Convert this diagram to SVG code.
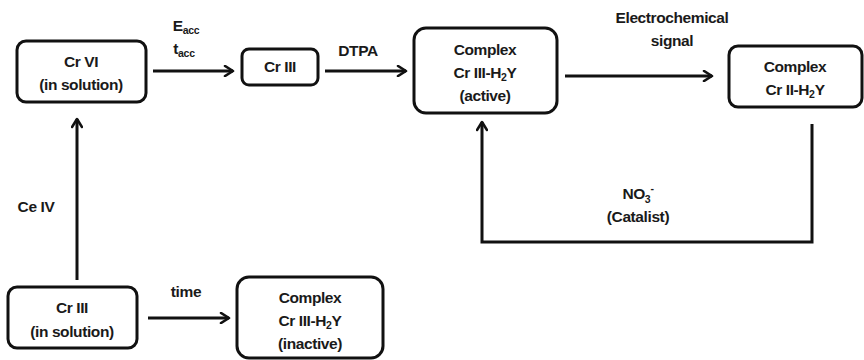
<svg xmlns="http://www.w3.org/2000/svg" width="864" height="360" viewBox="0 0 864 360">
<defs>
<marker id="arr" viewBox="0 0 12 12" refX="10" refY="6" markerWidth="12" markerHeight="12" markerUnits="userSpaceOnUse" orient="auto">
<path d="M2,1 L10,6 L2,11" fill="none" stroke="#111" stroke-width="2.6" stroke-linecap="round" stroke-linejoin="round"/>
</marker>
<style>
.box{fill:#fff;stroke:#111;stroke-width:3;}
.t{font-family:"Liberation Sans",Arial,sans-serif;font-weight:bold;font-size:15.5px;letter-spacing:-0.4px;fill:#1a1a1a;text-anchor:middle;}
.sub{font-size:10.5px;letter-spacing:-0.3px;}
.c{fill:none;stroke:#111;stroke-width:3;}
</style>
</defs>
<rect width="864" height="360" fill="#fff"/>
<g id="connectors">
<line class="c" x1="153" y1="71" x2="233" y2="71" marker-end="url(#arr)"/>
<line class="c" x1="325" y1="71" x2="406" y2="71" marker-end="url(#arr)"/>
<line class="c" x1="565" y1="76" x2="712" y2="76" marker-end="url(#arr)"/>
<line class="c" x1="77" y1="280" x2="77" y2="119" marker-end="url(#arr)"/>
<line class="c" x1="148" y1="318" x2="229" y2="318" marker-end="url(#arr)"/>
<polyline class="c" points="812,124 812,242 482,242 482,122" marker-end="url(#arr)"/>
<text class="t" x="186" y="31">E<tspan class="sub" dy="3">acc</tspan></text>
<text class="t" x="184" y="54">t<tspan class="sub" dy="3">acc</tspan></text>
<text class="t" x="358" y="56">DTPA</text>
<text class="t" x="672" y="23">Electrochemical</text>
<text class="t" x="672" y="46">signal</text>
<text class="t" x="36" y="212">Ce IV</text>
<text class="t" x="186" y="297">time</text>
<text class="t" x="638" y="199">NO<tspan class="sub" dy="4">3</tspan><tspan class="sub" dy="-11">-</tspan></text>
<text class="t" x="638" y="222">(Catalist)</text>
</g>
<g id="crvi">
<rect class="box" x="17" y="41" width="129" height="61" rx="9"/>
<text class="t" x="81" y="67">Cr VI</text>
<text class="t" x="81" y="90">(in solution)</text>
</g>
<g id="criii">
<rect class="box" x="242" y="49" width="76" height="36" rx="7"/>
<text class="t" x="280" y="72">Cr III</text>
</g>
<g id="complex-active">
<rect class="box" x="414" y="28" width="143" height="85" rx="12"/>
<text class="t" x="485" y="55">Complex</text>
<text class="t" x="485" y="78">Cr III-H<tspan class="sub" dy="3">2</tspan><tspan dy="-3">Y</tspan></text>
<text class="t" x="485" y="101">(active)</text>
</g>
<g id="complex-crii">
<rect class="box" x="729" y="46" width="133" height="61" rx="9"/>
<text class="t" x="795" y="72">Complex</text>
<text class="t" x="795" y="95">Cr II-H<tspan class="sub" dy="3">2</tspan><tspan dy="-3">Y</tspan></text>
</g>
<g id="criii-solution">
<rect class="box" x="8" y="287" width="129" height="61" rx="9"/>
<text class="t" x="72" y="313">Cr III</text>
<text class="t" x="72" y="337">(in solution)</text>
</g>
<g id="complex-inactive">
<rect class="box" x="237" y="277" width="146" height="81" rx="12"/>
<text class="t" x="310" y="303">Complex</text>
<text class="t" x="310" y="326">Cr III-H<tspan class="sub" dy="3">2</tspan><tspan dy="-3">Y</tspan></text>
<text class="t" x="310" y="349">(inactive)</text>
</g>
</svg>
